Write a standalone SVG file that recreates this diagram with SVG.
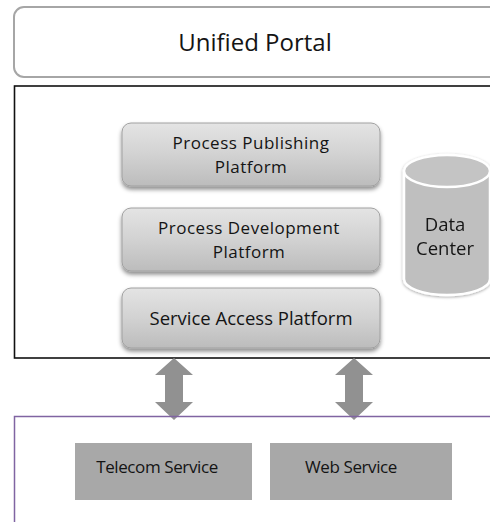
<svg xmlns="http://www.w3.org/2000/svg" width="490" height="522" viewBox="0 0 490 522">
  <defs>
    <linearGradient id="platGrad" x1="0" y1="0" x2="0" y2="1">
      <stop offset="0" stop-color="#e4e4e4"/>
      <stop offset="0.5" stop-color="#d2d2d2"/>
      <stop offset="1" stop-color="#bcbcbc"/>
    </linearGradient>
    <filter id="shadow" x="-10%" y="-10%" width="120%" height="140%">
      <feDropShadow dx="0" dy="3" stdDeviation="2" flood-color="#000" flood-opacity="0.45"/>
    </filter>
    <filter id="softShadow" x="-20%" y="-10%" width="140%" height="130%">
      <feDropShadow dx="0" dy="1" stdDeviation="1.5" flood-color="#000" flood-opacity="0.35"/>
    </filter>
  </defs>
  <style>
    text { font-family: "Open Sans", "Liberation Sans", sans-serif; fill: #141414; text-anchor: middle; }
    .plat { fill: url(#platGrad); stroke: #a0a0a0; stroke-width: 1; filter: url(#shadow); }
    .lbl { font-size: 18.5px; }
    .lbl2 { font-size: 17px; letter-spacing: 0.5px; }
    .svc { fill: #a8a8a8; }
    .svcText { font-size: 17px; letter-spacing: -0.4px; }
    .arrow { fill: #919191; }
  </style>

  <rect width="490" height="522" fill="#ffffff"/>

  <!-- portal bar -->
  <g id="unified-portal">
    <rect x="14" y="7" width="490" height="70" rx="10" fill="#ffffff" stroke="#a6a6a6" stroke-width="2"/>
    <text x="255" y="51" style="font-size:24px">Unified Portal</text>
  </g>

  <!-- platform layer container -->
  <g id="platform-layer">
    <rect x="14.5" y="86" width="490" height="272" fill="none" stroke="#111111" stroke-width="1.6"/>
  </g>

  <g id="process-publishing">
    <rect class="plat" x="122" y="123" width="258" height="63" rx="9"/>
    <text class="lbl2" x="251" y="149">Process Publishing</text>
    <text class="lbl2" x="251" y="173">Platform</text>
  </g>

  <g id="process-development">
    <rect class="plat" x="122" y="208" width="258" height="63" rx="9"/>
    <text class="lbl2" x="249" y="234">Process Development</text>
    <text class="lbl2" x="249" y="258">Platform</text>
  </g>

  <g id="service-access">
    <rect class="plat" x="122" y="288" width="258" height="60" rx="9"/>
    <text class="lbl" x="251" y="325">Service Access Platform</text>
  </g>

  <g id="data-center" filter="url(#softShadow)">
    <path d="M404,171 L404,279 A43,16 0 0 0 490,279 L490,171 Z" fill="#bfbfbf" stroke="#ffffff" stroke-width="2.5"/>
    <ellipse cx="447" cy="171" rx="43" ry="16" fill="#c4c4c4" stroke="#ffffff" stroke-width="2.5"/>
    <text class="lbl" x="445" y="231">Data</text>
    <text class="lbl" x="445" y="255">Center</text>
  </g>

  <!-- link arrows between the layers -->
  <g id="connectors">
    <path class="arrow" d="M174,358 L193,375 L183,375 L183,402 L193,402 L174,420 L155,402 L165,402 L165,375 L155,375 Z"/>
    <path class="arrow" d="M354,358 L373,375 L363,375 L363,402 L373,402 L354,420 L335,402 L345,402 L345,375 L335,375 Z"/>
  </g>

  <!-- service layer container -->
  <g id="service-layer">
    <rect x="14.5" y="416.5" width="490" height="120" fill="none" stroke="#8064a2" stroke-width="1.5"/>
  </g>

  <g id="telecom-service">
    <rect class="svc" x="75" y="443" width="177" height="57"/>
    <text class="svcText" x="157" y="473">Telecom Service</text>
  </g>

  <g id="web-service">
    <rect class="svc" x="270" y="443" width="182" height="57"/>
    <text class="svcText" x="351" y="473">Web Service</text>
  </g>
</svg>
